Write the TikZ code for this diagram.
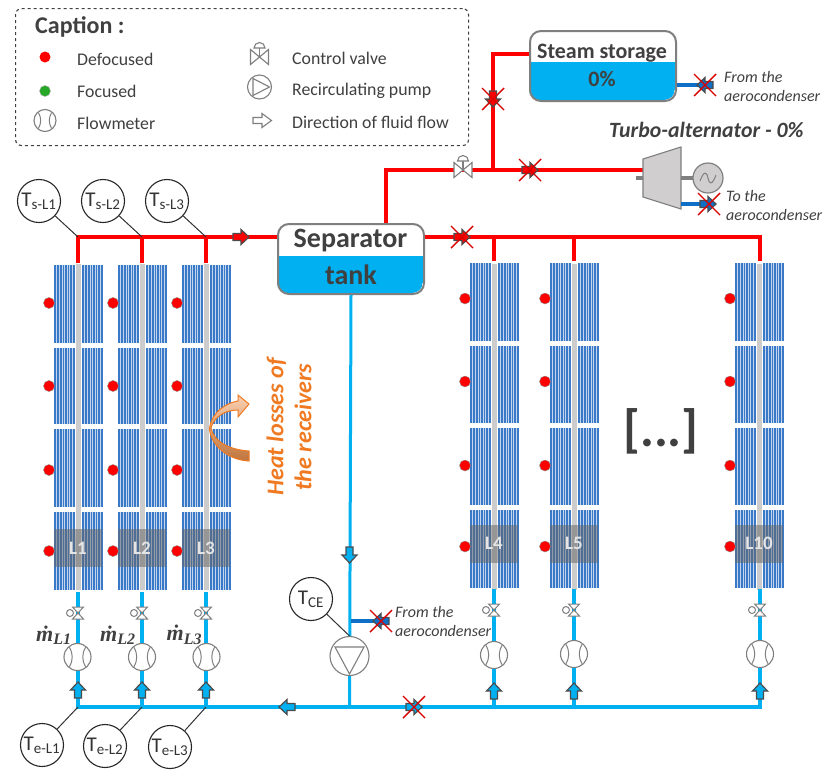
\documentclass[tikz,border=0pt]{standalone}
\usepackage{fontspec}
\setmainfont{Carlito}
\newfontfamily\mdotfont{Liberation Serif}
\usetikzlibrary{calc}
\definecolor{pipered}{HTML}{FF0000}
\definecolor{pipeblue}{HTML}{00B0F0}
\definecolor{deepblue}{HTML}{0F6FC6}
\definecolor{bank}{HTML}{3A78C8}
\definecolor{txt}{HTML}{404040}
\definecolor{gr}{HTML}{7F7F7F}
\definecolor{turb}{HTML}{D0CECE}
\definecolor{heat}{HTML}{F07A22}
\tikzset{
  x=1pt,y=-1pt,
  redpipe/.style={draw=pipered,line width=3.8pt},
  bluepipe/.style={draw=pipeblue,line width=3.8pt},
  deeppipe/.style={draw=deepblue,line width=3.4pt},
  tankbox/.style={draw=gr,line width=2pt,rounded corners=11pt,minimum width=146pt,minimum height=70pt,anchor=north west,inner sep=0pt},
  tanktext/.style={text=txt,inner sep=0pt,font=\fontsize{28}{28}\selectfont\bfseries},
  storetext/.style={text=txt,inner sep=0pt,font=\fontsize{22}{22}\selectfont\bfseries},
  sensor/.style={circle,draw=black!85,line width=1.1pt,fill=white,minimum size=43pt,inner sep=0pt,text=black!80,font=\fontsize{21}{21}\selectfont},
  sensorline/.style={draw=black!80,line width=1pt},
  dot/.style={circle,fill=pipered,draw=black!45,line width=.4pt,minimum size=11pt,inner sep=0pt},
  label/.style={text=txt,anchor=west,font=\fontsize{17.8}{17.8}\selectfont,inner sep=0pt},
  note/.style={text=txt,anchor=west,font=\fontsize{16}{16}\selectfont\itshape,inner sep=0pt},
  meter/.style={circle,draw=gr,line width=1.1pt,fill=white,minimum size=26pt,inner sep=0pt},
  cross/.style={draw=pipered!85!black,line width=1.4pt},
  flow/.style={draw=black!70,line width=1.2pt},
  massflow/.style={text=txt,inner sep=0pt,font=\fontsize{22}{22}\selectfont\mdotfont\bfseries\itshape},
}
% flow arrow: x, y, angle, fill
\newcommand{\flowarrow}[4]{\begin{scope}[shift={(#1,#2)},rotate=#3]
 \path[flow,fill=#4] (-8,-3.5)--(0,-3.5)--(0,-7.5)--(8,0)--(0,7.5)--(0,3.5)--(-8,3.5)--cycle;\end{scope}}
\newcommand{\redx}[2]{\draw[cross] (#1-11,#2-11)--(#1+11,#2+11) (#1-11,#2+11)--(#1+11,#2-11);}
\newcommand{\valve}[2]{\begin{scope}[shift={(#1,#2)}]
 \path[draw=gr,line width=1.1pt,fill=white] (-9,-7.5)--(9,7.5)--(9,-7.5)--(-9,7.5)--cycle;
 \path[draw=gr,line width=1.1pt] (0,0)--(0,-9);
 \path[draw=gr,line width=1.1pt,fill=white] (-5.5,-9) arc[start angle=180,end angle=360,radius=5.5]--cycle;\end{scope}}
\newcommand{\flowmeter}[3]{\node[meter,minimum size=#3pt] (#1) at (#2) {};
 \draw[gr,line width=1pt] ($(#1)+(-.3*#3,-.36*#3)$) to[bend left=30] ($(#1)+(-.3*#3,.36*#3)$);
 \draw[gr,line width=1pt] ($(#1)+(.3*#3,-.36*#3)$) to[bend right=30] ($(#1)+(.3*#3,.36*#3)$);}
\newcommand{\bankstrip}[3]{\fill[bank] (#1,#2) rectangle (#1+20.5,#3);
 \foreach \i in {1,...,7}{\draw[bank!30!white,line width=.6pt] (#1+2.6*\i,#2)--(#1+2.6*\i,#3);}}
% field: centre x, label, section list macro, marker shift
\newcommand{\field}[4]{\begin{scope}[shift={(#1-78,0)}]
 \foreach \a/\b in #3 {\bankstrip{54}{\a}{\b}\bankstrip{82}{\a}{\b}}
 \fill[gray!40] (75.8,264) rectangle (81.2,590);
 \fill[black!60,opacity=.52] (54,529+#4) rectangle (102,567+#4);
 \node[text=black!10,font=\fontsize{19}{19}\selectfont\bfseries,inner sep=0pt] (#2) at (78,548+#4) {#2};
 \node[dot] (d#2a) at (49,303+#4) {};\node[dot] (d#2b) at (49,386+#4) {};\node[dot] (d#2c) at (49,470+#4) {};\node[dot] (d#2d) at (49,551+#4) {};
 \end{scope}}
\newcommand{\sensorlabel}[1]{T\textsubscript{\fontsize{15}{15}\selectfont #1}}
\newcommand{\mdotlabel}[1]{ṁ\textsubscript{\fontsize{16}{16}\selectfont #1}}
\begin{document}
\begin{tikzpicture}
\useasboundingbox (0,0) rectangle (824,769);
\fill[white] (0,0) rectangle (824,769);
% caption
\node[draw=black!75,dashed,line width=1.1pt,rounded corners=6pt,minimum width=453pt,minimum height=137pt,anchor=north west,inner sep=0pt] (capbox) at (15,8) {};
\node[anchor=west,text=txt,font=\fontsize{24}{24}\selectfont\bfseries,inner sep=0pt] (captitle) at (35,27) {Caption :};
\node[dot,draw=none] (capdef) at (45,57) {};
\node[dot,fill=green!60!black!85,draw=black!30] (capfoc) at (45,91) {};
\flowmeter{capfm}{45,120.5}{22}
\node[label] (t1) at (77,59) {Defocused};
\node[label] (t2) at (77,91.5) {Focused};
\node[label] (t3) at (77,123) {Flowmeter};
\valve{259.5}{57}
\node[circle,draw=gr,line width=1.1pt,minimum size=24pt,inner sep=0pt] (cappump) at (259.5,87) {};
\draw[gr,line width=1.1pt] (253,78.5)--(269.5,87)--(253,95.5)--cycle;
\path[draw=gr,line width=1.1pt,fill=white] (253,117.5)--(262,117.5)--(262,113.5)--(271.5,120.5)--(262,127.5)--(262,123.5)--(253,123.5)--cycle;
\node[label] (t4) at (292,58) {Control valve};
\node[label] (t5) at (292,91) {Recirculating pump};
\node[label] (t6) at (292,122) {Direction of fluid flow};
% fields
\def\secL{265/343,348/424,429/507,512/590}
\def\secR{263/341,346/423,428/505,510/588}
\field{78}{L1}{\secL}{0}\field{142}{L2}{\secL}{0}\field{206}{L3}{\secL}{0}
\field{494}{L4}{\secR}{-4.5}\field{574}{L5}{\secR}{-4.5}\field{759}{L10}{\secR}{-4.5}
% coordinates
\coordinate (hL1) at (78,237);\coordinate (hL2) at (142,237);\coordinate (hL3) at (206,237);
\coordinate (hL4) at (494,237);\coordinate (hL5) at (574,237);\coordinate (hL10) at (760,237);
\coordinate (bL1) at (78,707);\coordinate (bL2) at (142,707);\coordinate (bL3) at (206,707);
\coordinate (bL4) at (494,707);\coordinate (bL5) at (574,707);\coordinate (bL10) at (760,707);
\coordinate (bC) at (349.5,707);
% tanks
\begin{scope}
 \clip[rounded corners=11pt] (277,223) rectangle (423,293);
 \fill[pipeblue] (277,256) rectangle (423,293);
\end{scope}
\node[tankbox] (sep) at (277,223) {};
\node[tanktext] (septop) at (350.5,241) {Separator};
\node[tanktext] (sepbot) at (351,275) {tank};
\begin{scope}
 \clip[rounded corners=11pt] (529,30) rectangle (675,100);
 \fill[pipeblue] (529,62) rectangle (675,100);
\end{scope}
\node[tankbox] (sto) at (529,30) {};
\node[storetext] (stotop) at (602,53) {Steam storage};
\node[storetext] (stobot) at (602,79) {0\%};
% red pipes
\coordinate (cUp) at (386,170);\coordinate (cJ) at (493,170);\coordinate (cTop) at (493,54);
\draw[redpipe] (hL1)--(sep.west |- hL1);
\draw[redpipe] (sep.east |- hL1)--(hL10);
\foreach \n in {1,2,3}{\draw[redpipe] ($(hL\n)+(0,-1.9)$)--++(0,28);}
\foreach \n in {4,5,10}{\draw[redpipe] ($(hL\n)+(0,-1.9)$)--++(0,26);}
\draw[redpipe,line join=miter] (sep.north -| cUp)--(cUp)--(643,170);
\draw[redpipe,line join=miter] (cJ)--(cTop)--(sto.west |- cTop);
\flowarrow{241}{237}{0}{pipered}
\flowarrow{493}{99}{-90}{pipered}\redx{493}{99}
\flowarrow{530}{170}{0}{pipered}\redx{530}{170}
\flowarrow{462}{237}{0}{pipered}\redx{462}{237}
\valve{463}{170}
% turbine
\path[draw=gr,line width=1.1pt,fill=turb] (643,159)--(681,147)--(681,209)--(643,197)--cycle;
\draw[gr,line width=3.5pt] (636,178)--(643,178) (681,178)--(693,178);
\node[circle,draw=gr,line width=1.2pt,fill=turb,minimum size=30pt,inner sep=0pt] (gen) at (708,178) {};
\draw[gr,line width=1pt] (700,181) .. controls (704,170) and (707,172) .. (708,178) .. controls (709,184) and (712,186) .. (716,175);
\node[anchor=west,text=txt,font=\fontsize{21.8}{21.8}\selectfont\bfseries\itshape,inner sep=0pt] (turbt) at (609,130) {Turbo-alternator - 0\%};
\draw[deeppipe] (681,204)--(704,204);
\flowarrow{708}{204}{0}{deepblue}\redx{709}{204}
\node[note] (n3) at (726,196) {To the};
\node[note] (n4) at (726,215) {aerocondenser};
\draw[deeppipe] (sto.east |- 0,85)--(700,85);
\flowarrow{705}{85}{180}{deepblue}\redx{705}{85}
\node[note] (n1) at (724,77) {From the};
\node[note] (n2) at (724,96) {aerocondenser};
% blue pipes
\draw[bluepipe,line width=3pt] (sep.south)--(bC);
\draw[bluepipe] (bL1)--(bL10);
\foreach \n in {1,2,3}{\draw[bluepipe] ($(bL\n)+(0,1.9)$)--++(0,-117);}
\foreach \n in {4,5,10}{\draw[bluepipe] ($(bL\n)+(0,1.9)$)--++(0,-120);}
\draw[deeppipe] (351,621)--(380,621);
\flowarrow{381}{621}{180}{deepblue}\redx{381}{621}
\node[note] (n5) at (395,612) {From the};
\node[note] (n6) at (395,631) {aerocondenser};
\flowarrow{349.5}{555}{-90}{pipeblue}
\flowarrow{287}{707}{180}{pipeblue}
\flowarrow{414}{707}{0}{pipeblue}\redx{414}{707}
% pump
\node[circle,draw=gr,line width=1.1pt,fill=white,minimum size=39pt,inner sep=0pt] (pump) at (349.5,656) {};
\draw[gr,line width=1.1pt] (335,647)--(364,647)--(349.5,674)--cycle;
% loop instruments
\foreach \y/\X in {613/78,613/142,613/206,610/494,610/574,610/760}{
  \begin{scope}[shift={(\X,\y)}]
   \path[draw=gr,line width=1pt,fill=white] (-5.5,-6)--(5.5,6)--(-5.5,6)--(5.5,-6)--cycle;
   \path[draw=gr,line width=1pt,fill=white] (-8,0) circle[radius=3.5];
  \end{scope}}
\flowmeter{fmA}{77.5,657}{27}\flowmeter{fmB}{142,657}{27}\flowmeter{fmC}{206.5,657}{27}
\flowmeter{fmD}{494,655}{27}\flowmeter{fmE}{574,654}{27}\flowmeter{fmF}{760,654}{27}
\foreach \X/\Y in {78/690,142/690,206/690,494/691,574/691,760/691}{\flowarrow{\X}{\Y}{90}{pipeblue}}
\node[massflow,anchor=west] (m1) at (36,635) {\mdotlabel{L1}};
\node[massflow,anchor=west] (m2) at (100,635) {\mdotlabel{L2}};
\node[massflow,anchor=west] (m3) at (166.5,635) {\mdotlabel{L3}};
% sensors
\node[sensor] (sL1) at (39,201) {\sensorlabel{s-L1}};
\node[sensor] (sL2) at (103,201) {\sensorlabel{s-L2}};
\node[sensor] (sL3) at (167,201) {\sensorlabel{s-L3}};
\node[sensor] (eL1) at (42,745) {\sensorlabel{e-L1}};
\node[sensor] (eL2) at (105,746) {\sensorlabel{e-L2}};
\node[sensor] (eL3) at (170,747) {\sensorlabel{e-L3}};
\node[sensor] (tce) at (311,599) {\sensorlabel{CE}};
\draw[sensorline] (sL1)--(hL1);\draw[sensorline] (sL2)--(hL2);\draw[sensorline] (sL3)--(hL3);
\draw[sensorline] (eL1)--(bL1);\draw[sensorline] (eL2)--(bL2);\draw[sensorline] (eL3)--(bL3);
\draw[sensorline] (tce)--(pump.north);
% heat losses
\path[draw=heat,line width=1pt,top color=heat!35,bottom color=heat!75!black!85]
 (249,451) .. controls (232,450) and (214,443) .. (211,428)
 .. controls (214,416) and (226,410) .. (238,410)
 --(238,417)--(249,404)--(238,395)--(238,401)
 .. controls (226,403) and (212,412) .. (209.5,428)
 .. controls (210,445) and (228,460) .. (249,461)--cycle;
\node[rotate=90,align=center,text=heat,font=\fontsize{24}{28}\selectfont\bfseries\itshape,inner sep=0pt] (heatt) at (289,427) {Heat losses of\\the receivers};
\node[text=txt,font=\fontsize{52}{52}\selectfont\bfseries,inner sep=0pt] (dots) at (661,431) {[...]};
\end{tikzpicture}
\end{document}
